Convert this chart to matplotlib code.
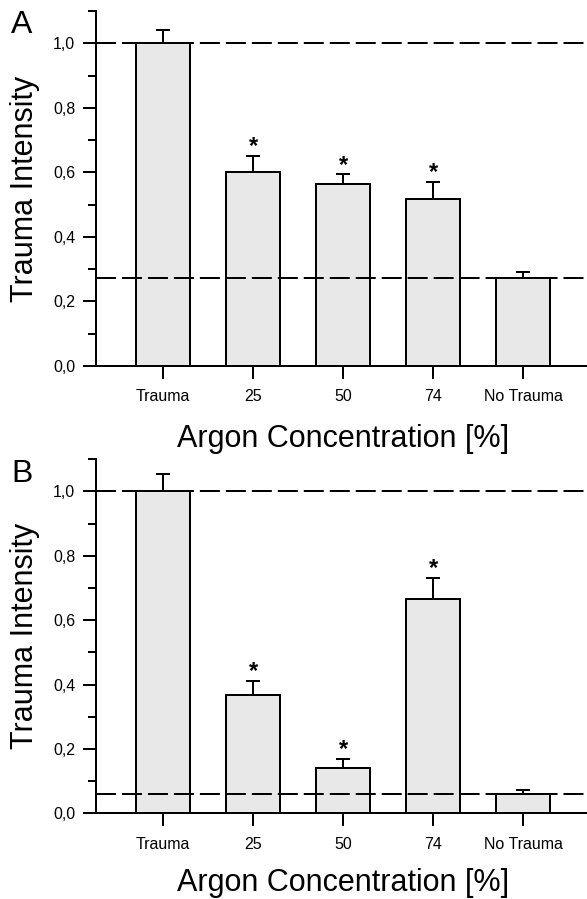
import matplotlib
matplotlib.use("Agg")
import matplotlib.pyplot as plt
from matplotlib.ticker import MultipleLocator, FuncFormatter

plt.rcParams['font.family'] = ['Liberation Sans', 'DejaVu Sans']
plt.rcParams['lines.scale_dashes'] = False

categories = ["Trauma", "25", "50", "74", "No Trauma"]

means_A = [1.0, 0.601, 0.564, 0.517, 0.274]
errs_A = [0.040, 0.049, 0.030, 0.053, 0.017]
sig_A = [False, True, True, True, False]

means_B = [1.0, 0.367, 0.142, 0.665, 0.060]
errs_B = [0.053, 0.044, 0.026, 0.067, 0.011]
sig_B = [False, True, True, True, False]

panel_letters = ["A", "B"]
xlabel = "Argon Concentration [%]"
ylabel = "Trauma Intensity"

W, H = 587, 899
fig = plt.figure(figsize=(W / 100, H / 100), dpi=100)

LW = 1.44
BAR_COLOR = "#e8e8e8"

def px_to_fig(x, y):
    return x / W, 1 - y / H

panels = [
    # (means, errs, sig, axes top px, axes bottom px, letter baseline, xlabel baseline)
    (means_A, errs_A, sig_A, 11, 366, 33, 447),
    (means_B, errs_B, sig_B, 459.3, 813.3, 482, 891),
]

for i, (means, errs, sig, top_px, bot_px, let_base, xl_base) in enumerate(panels):
    left_px, right_px = 96, 587
    ax = fig.add_axes([left_px / W, 1 - bot_px / H,
                       (right_px - left_px) / W, (bot_px - top_px) / H])
    x = list(range(len(categories)))
    ax.bar(x, means, width=0.6, color=BAR_COLOR, edgecolor="black",
           linewidth=LW, zorder=2)
    ax.errorbar(x, means, yerr=[[0] * len(errs), errs], fmt="none",
                ecolor="black", elinewidth=LW, capsize=5, capthick=LW,
                zorder=1)
    ax.axhline(means[0], color="black", lw=LW, dashes=(14.4, 4.3), zorder=3)
    ax.axhline(means[-1], color="black", lw=LW, dashes=(14.4, 4.3), zorder=3)
    for xi, m, e, s in zip(x, means, errs, sig):
        if s:
            ax.annotate("*", xy=(xi, m + e), xytext=(0, 2),
                        textcoords="offset points", ha="center",
                        va="baseline", fontsize=17, fontweight="bold")
    ax.set_xlim(-0.744, 4.71)
    ax.set_ylim(0, 1.1)
    ax.set_xticks(x)
    ax.set_xticklabels(categories)
    ax.yaxis.set_major_locator(MultipleLocator(0.2))
    ax.yaxis.set_minor_locator(MultipleLocator(0.1))
    ax.yaxis.set_major_formatter(FuncFormatter(lambda v, p: f"{v:.1f}".replace(".", ",")))
    for sp in ["top", "right"]:
        ax.spines[sp].set_visible(False)
    for sp in ["left", "bottom"]:
        ax.spines[sp].set_linewidth(LW)
    ax.tick_params(axis="y", which="major", length=9.4, width=LW, pad=5.5,
                   labelsize=11.5, direction="out")
    ax.tick_params(axis="y", which="minor", length=5.8, width=LW, direction="out")
    ax.tick_params(axis="x", which="major", length=9.4, width=LW, pad=7.5,
                   labelsize=11.5, direction="out")
    ax.tick_params(axis="x", which="minor", bottom=False)
    ax.set_facecolor("none")

    fx, fy = px_to_fig(11, let_base)
    fig.text(fx, fy, panel_letters[i], fontsize=23, ha="left", va="baseline")
    fx, fy = px_to_fig(343, xl_base)
    fig.text(fx, fy, xlabel, fontsize=22, ha="center", va="baseline")
    fx, fy = px_to_fig(33, (top_px + bot_px) / 2 + 0)
    fig.text(fx, fy, ylabel, fontsize=22, rotation=90, rotation_mode="anchor",
             ha="center", va="baseline")

fig.savefig("out.png", dpi=100)
